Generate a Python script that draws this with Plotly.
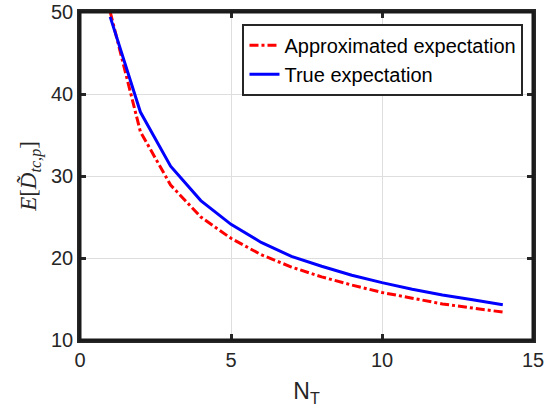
import plotly.graph_objects as go

# Number of transmitters
n_t = [1, 2, 3, 4, 5, 6, 7, 8, 9, 10, 11, 12, 13, 14]

# Expected distance values for each N_T
approx_expectation = [50.0, 35.4, 28.9, 25.0, 22.4, 20.4, 18.9, 17.7, 16.7, 15.8, 15.1, 14.4, 13.9, 13.4]
true_expectation = [49.4, 37.8, 31.2, 27.0, 24.1, 21.9, 20.2, 19.0, 17.9, 17.0, 16.2, 15.5, 14.9, 14.3]

x_ticks = [0, 5, 10, 15]
y_ticks = [10, 20, 30, 40, 50]
x_range = [0, 15]
y_range = [10, 50]

axis_color = "#262626"
grid_color = "#dedede"
sans = "Liberation Sans, Arial"

fig = go.Figure()
fig.add_trace(go.Scatter(
    x=n_t, y=approx_expectation, mode="lines",
    name="Approximated expectation",
    line=dict(color="#ff0000", width=3, dash="dashdot"),
))
fig.add_trace(go.Scatter(
    x=n_t, y=true_expectation, mode="lines",
    name="True expectation",
    line=dict(color="#0000ff", width=3),
))

axis_common = dict(
    showline=True, linecolor=axis_color, linewidth=2.5, mirror="ticks",
    ticks="inside", ticklen=6, tickwidth=2.5, tickcolor=axis_color,
    showgrid=True, gridcolor=grid_color, gridwidth=1.3,
    zeroline=False, automargin=False, layer="above traces",
    tickfont=dict(family=sans, size=20, color=axis_color),
)

fig.update_xaxes(
    range=x_range, tickvals=x_ticks,
    title=dict(text="N<sub>T</sub>", font=dict(family=sans, size=23, color=axis_color), standoff=14),
    **axis_common,
)
fig.update_yaxes(
    range=y_range, tickvals=y_ticks,
    title=dict(text="<i>E</i>[<i>D\u0303</i><sub><i>tc,p</i></sub>]",
               font=dict(family="Liberation Serif, DejaVu Serif", size=23, color=axis_color), standoff=8),
    **axis_common,
)

# Outline of the axes area
fig.add_shape(
    type="rect", xref="paper", yref="paper", x0=0, y0=0, x1=1, y1=1,
    line=dict(color="#1a1a1a", width=3), layer="above",
)

fig.update_layout(
    width=552, height=411,
    margin=dict(l=80, r=19, t=12, b=71),
    paper_bgcolor="white", plot_bgcolor="white",
    showlegend=True,
    legend=dict(
        x=0.979, y=0.964, xanchor="right", yanchor="top",
        bgcolor="white", bordercolor=axis_color, borderwidth=2,
        font=dict(family=sans, size=20, color="#000000"),
    ),
)

fig.write_html("out.html")
